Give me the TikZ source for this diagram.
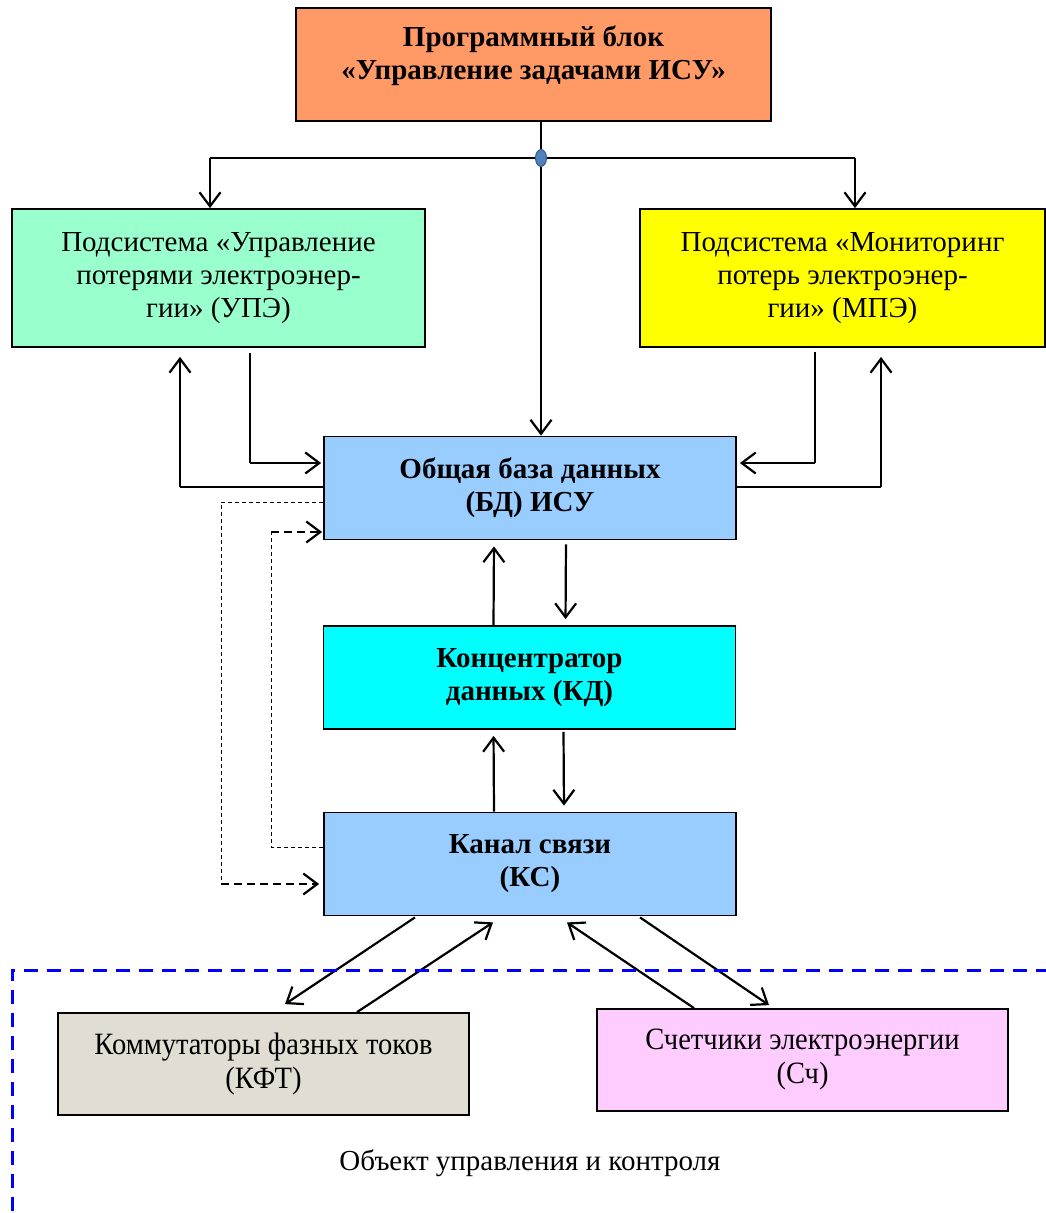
\documentclass[tikz,border=0pt]{standalone}
\usepackage{fontspec}
\setmainfont{Liberation Serif}
\newfontfamily\narrowfont[FakeStretch=0.92]{Liberation Serif}
\usetikzlibrary{arrows.meta,calc,shapes.geometric}
\definecolor{progclr}{HTML}{FF9966}
\definecolor{upeclr}{HTML}{99FFCC}
\definecolor{mpeclr}{HTML}{FFFF00}
\definecolor{bdclr}{HTML}{99CCFF}
\definecolor{kdclr}{HTML}{00FFFF}
\definecolor{kftclr}{HTML}{E2DDD3}
\definecolor{schclr}{HTML}{FFCCFF}
\definecolor{dotclr}{HTML}{4F81BD}
\definecolor{dotline}{HTML}{385D8A}
\tikzset{
  blk/.style={draw,rectangle,line width=1.8pt,align=center,inner sep=0pt,font=\fontsize{29}{33}\selectfont},
  progblk/.style={blk,fill=progclr,minimum width=475pt,minimum height=113pt},
  boldtxt/.style={align=center,inner sep=0pt,font=\fontsize{29}{33}\selectfont\bfseries},
  upeblk/.style={blk,fill=upeclr,minimum width=413pt,minimum height=138pt},
  mpeblk/.style={blk,fill=mpeclr,minimum width=405pt,minimum height=138pt},
  bdblk/.style={blk,fill=bdclr,minimum width=412pt,minimum height=103pt,font=\fontsize{29}{33}\selectfont\bfseries},
  kdblk/.style={bdblk,fill=kdclr},
  kftblk/.style={blk,fill=kftclr,minimum width=411pt,minimum height=102pt,font=\fontsize{31}{34}\narrowfont},
  schblk/.style={kftblk,fill=schclr},
  dotnode/.style={ellipse,draw=dotline,fill=dotclr,line width=1pt,minimum width=11pt,minimum height=17pt,inner sep=0pt},
  arr/.style={-{Straight Barb[length=14pt,width=21pt]},line width=2.2pt},
  thinln/.style={line width=1.2pt},
  dln/.style={line width=1pt,dash pattern=on 4pt off 3pt},
  darr/.style={arr,dash pattern=on 8pt off 5pt},
  objln/.style={blue,line width=3pt,dash pattern=on 14pt off 9pt},
  lbl/.style={font=\fontsize{29}{33}\selectfont}
}
\begin{document}
\begin{tikzpicture}[x=1pt,y=-1pt]
  \useasboundingbox (0,0) rectangle (1046,1213);
  % blocks
  \node[progblk] (prog) at (533.5,64.5) {};
  \node[boldtxt] (progtxt) at ($(prog.center)+(0,-9)$) {Программный блок\\«Управление задачами ИСУ»};
  \node[upeblk] (upe) at (218.5,278) {Подсистема «Управление\\потерями электроэнер-\\гии» (УПЭ)};
  \node[mpeblk] (mpe) at (842.5,278) {Подсистема «Мониторинг\\потерь электроэнер-\\гии» (МПЭ)};
  \node[bdblk] (bd) at (530,488) {Общая база данных\\(БД) ИСУ};
  \node[kdblk] (kd) at (529.5,677.5) {Концентратор\\данных (КД)};
  \node[bdblk] (ks) at (530,864) {Канал связи\\(КС)};
  \node[kftblk] (kft) at (263.5,1064) {Коммутаторы фазных токов\\(КФТ)};
  \node[schblk] (sch) at (802.5,1060) {Счетчики электроэнергии\\(Сч)};
  \node[lbl] (obj) at (530,1163) {Объект управления и контроля};
  \node[dotnode] (dot) at (541,158) {};

  % bus from the program block
  \coordinate (busl) at (210,158);
  \coordinate (busr) at (855,158);
  \draw[thinln] (dot |- prog.south) -- (dot.north);
  \draw[thinln] (busl) -- (dot.west);
  \draw[thinln] (dot.east) -- (busr);
  \draw[arr] (busl) -- (busl |- upe.north);
  \draw[arr] (busr) -- (busr |- mpe.north);
  \draw[arr] (dot.south) -- (dot |- bd.north);

  % subsystems <-> database
  \coordinate (ub) at (250,463);
  \coordinate (ua) at (180,487);
  \coordinate (mb) at (815,463);
  \coordinate (ma) at (881,487);
  \draw[thinln] ([yshift=-5pt]ub |- upe.south) -- (ub);
  \draw[arr,shorten >=2pt] (ub) -- (ub -| bd.west);
  \draw[thinln] (bd.west |- ua) -- (ua);
  \draw[arr,shorten >=9pt] (ua) -- (ua |- upe.south);
  \draw[thinln] ([yshift=-4pt]mb |- mpe.south) -- (mb);
  \draw[arr,shorten >=3pt] (mb) -- (mb -| bd.east);
  \draw[thinln] (bd.east |- ma) -- (ma);
  \draw[arr,shorten >=9pt] (ma) -- (ma |- mpe.south);

  % dashed feedback
  \coordinate (da) at (221,502);
  \coordinate (db) at (221,884);
  \coordinate (dc) at (271,847);
  \coordinate (dd) at (271,532);
  \draw[dln] (bd.west |- da) -- (da) -- (db);
  \draw[darr,shorten >=4pt] (db) -- (db -| ks.west);
  \draw[dln] (ks.west |- dc) -- (dc) -- (dd);
  \draw[darr,shorten >=1pt] (dd) -- (dd -| bd.west);

  % vertical chain
  \draw[arr,shorten <=4pt,shorten >=6pt] ([xshift=36pt]bd.south) -- ([xshift=36pt]kd.north);
  \draw[arr,shorten >=6pt] ([xshift=-36pt]kd.north) -- ([xshift=-36pt]bd.south);
  \draw[arr,shorten <=2pt,shorten >=6pt] ([xshift=34pt]kd.south) -- ([xshift=34pt]ks.north);
  \draw[arr,shorten >=6pt] ([xshift=-36pt]ks.north) -- ([xshift=-36pt]kd.south);

  % channel <-> object
  \draw[arr] ($(ks.south)+(-115,1)$) -- ($(kft.north)+(21.5,-8)$);
  \draw[arr] ($(kft.north)+(93.5,0)$) -- ($(ks.south)+(-37,6)$);
  \draw[arr] ($(sch.north)+(-108.5,0)$) -- ($(ks.south)+(37,6)$);
  \draw[arr] ($(ks.south)+(110,1)$) -- ($(sch.north)+(-33.5,-3)$);

  % object border
  \draw[objln] (1050,970) -- (12,970) -- (12,1220);
\end{tikzpicture}
\end{document}
